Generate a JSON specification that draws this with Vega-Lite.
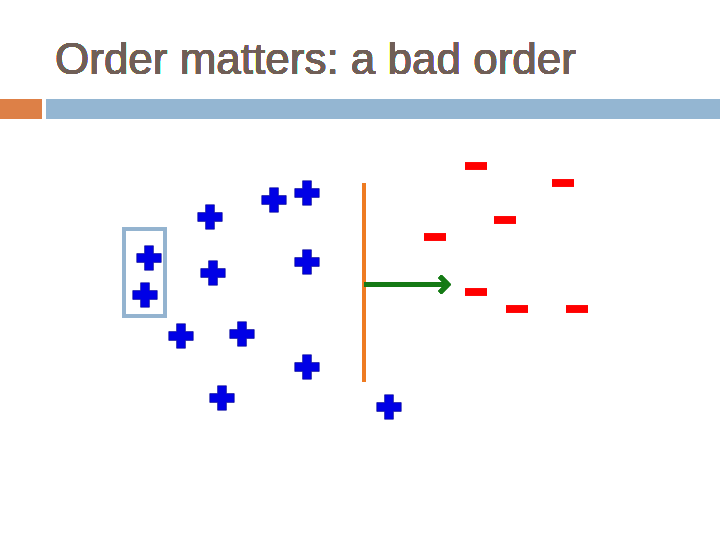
{
  "$schema": "https://vega.github.io/schema/vega-lite/v6.json",
  "width": 720,
  "height": 540,
  "padding": 0,
  "autosize": {"type": "none"},
  "background": "white",
  "config": {"view": {"stroke": null}},
  "data": {
    "values": [
      {"x": 210, "y": 217, "sign": "+"},
      {"x": 274, "y": 200, "sign": "+"},
      {"x": 307, "y": 193, "sign": "+"},
      {"x": 149, "y": 258, "sign": "+"},
      {"x": 213, "y": 273, "sign": "+"},
      {"x": 307, "y": 262, "sign": "+"},
      {"x": 145, "y": 295, "sign": "+"},
      {"x": 181, "y": 336, "sign": "+"},
      {"x": 242, "y": 334, "sign": "+"},
      {"x": 307, "y": 367, "sign": "+"},
      {"x": 222, "y": 398, "sign": "+"},
      {"x": 389, "y": 407, "sign": "+"},
      {"x": 476, "y": 166, "sign": "-"},
      {"x": 563, "y": 183, "sign": "-"},
      {"x": 505, "y": 220, "sign": "-"},
      {"x": 435, "y": 237, "sign": "-"},
      {"x": 476, "y": 292, "sign": "-"},
      {"x": 517, "y": 309, "sign": "-"},
      {"x": 577, "y": 309, "sign": "-"}
    ]
  },
  "encoding": {
    "x": {"field": "x", "type": "quantitative", "scale": {"domain": [0, 720], "nice": false, "zero": false}, "axis": null},
    "y": {"field": "y", "type": "quantitative", "scale": {"domain": [0, 540], "nice": false, "zero": false, "reverse": true}, "axis": null}
  },
  "layer": [
    {
      "mark": {"type": "rect", "color": "#DD8047"},
      "encoding": {
        "x": {"datum": 0, "type": "quantitative"}, "x2": {"datum": 42},
        "y": {"datum": 99.5, "type": "quantitative"}, "y2": {"datum": 118.5}
      }
    },
    {
      "mark": {"type": "rect", "color": "#94B6D2"},
      "encoding": {
        "x": {"datum": 46, "type": "quantitative"}, "x2": {"datum": 720},
        "y": {"datum": 99.5, "type": "quantitative"}, "y2": {"datum": 118.5}
      }
    },
    {
      "mark": {"type": "text", "text": "Order matters: a bad order", "font": "Liberation Sans", "fontSize": 44, "color": "#705F57", "align": "left", "baseline": "alphabetic"},
      "encoding": {
        "x": {"datum": 55, "type": "quantitative"},
        "y": {"datum": 74, "type": "quantitative"}
      }
    },
    {
      "mark": {"type": "rect", "filled": false, "stroke": "#94B3CF", "strokeWidth": 3},
      "encoding": {
        "x": {"datum": 124, "type": "quantitative"}, "x2": {"datum": 165},
        "y": {"datum": 229, "type": "quantitative"}, "y2": {"datum": 316}
      }
    },
    {
      "mark": {"type": "rule", "color": "#EE7B22", "strokeWidth": 4},
      "encoding": {
        "x": {"datum": 364, "type": "quantitative"},
        "y": {"datum": 183, "type": "quantitative"}, "y2": {"datum": 382}
      }
    },
    {
      "mark": {"type": "rule", "color": "#157A15", "strokeWidth": 3.5},
      "encoding": {
        "x": {"datum": 364, "type": "quantitative"}, "x2": {"datum": 447},
        "y": {"datum": 284.5, "type": "quantitative"}
      }
    },
    {
      "mark": {"type": "point", "shape": "M-1,-1L0,0L-1,1", "filled": false, "stroke": "#157A15", "strokeWidth": 4, "size": 256, "opacity": 1, "strokeJoin": "miter"},
      "encoding": {
        "x": {"datum": 448, "type": "quantitative"},
        "y": {"datum": 284.5, "type": "quantitative"}
      }
    },
    {
      "transform": [{"filter": "datum.sign === '+'"}],
      "mark": {"type": "point", "shape": "M-1,-0.36H-0.36V-1H0.36V-0.36H1V0.36H0.36V1H-0.36V0.36H-1Z", "filled": true, "size": 600, "color": "#0000E6", "stroke": "#00008B", "strokeWidth": 0.6, "opacity": 1}
    },
    {
      "transform": [{"filter": "datum.sign === '-'"}],
      "mark": {"type": "point", "shape": "M-1,-0.36H1V0.36H-1Z", "filled": true, "size": 484, "color": "#FF0000", "opacity": 1}
    }
  ]
}
